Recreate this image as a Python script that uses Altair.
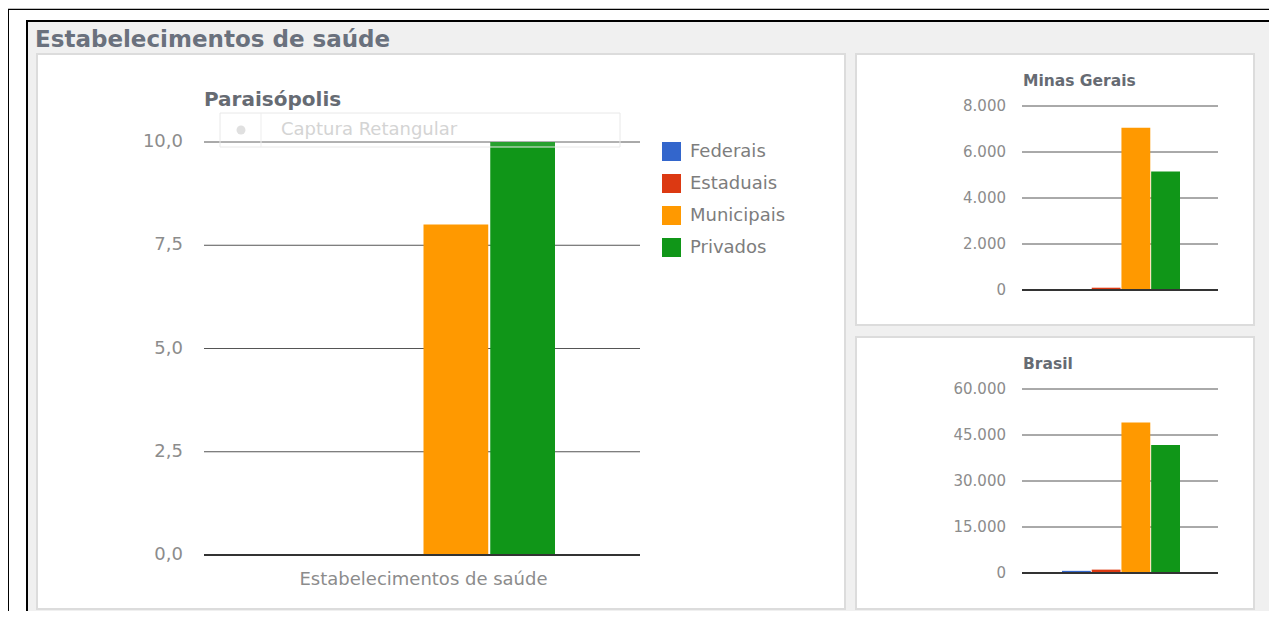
import altair as alt
import pandas as pd

# ---------------- data ----------------
categories = ["Federais", "Estaduais", "Municipais", "Privados"]
paraisopolis = [0, 0, 8, 10]
minas_gerais = [0, 100, 7050, 5150]
brasil = [700, 1100, 49100, 41700]

ticks_pv = [0, 2.5, 5, 7.5, 10]
labels_pv = ["0,0", "2,5", "5,0", "7,5", "10,0"]
ticks_mg = [0, 2000, 4000, 6000, 8000]
labels_mg = ["0", "2.000", "4.000", "6.000", "8.000"]
ticks_br = [0, 15000, 30000, 45000, 60000]
labels_br = ["0", "15.000", "30.000", "45.000", "60.000"]

page_title = "Estabelecimentos de saúde"
panel_titles = ["Paraisópolis", "Minas Gerais", "Brasil"]
x_title = "Estabelecimentos de saúde"
overlay_text = "Captura Retangular"

# ---------------- style ----------------
colors = ["#3366cc", "#dc3912", "#ff9900", "#109618"]
FONT = "DejaVu Sans"
W, H = 1261, 603
OX, OY = 8, 8
RIGHT = OX + W


def px(x):
    return x - OX


def py(y):
    return y - OY


one = pd.DataFrame({"a": [0]})


def rect(x1, y1, x2, y2, **kw):
    return alt.Chart(one).mark_rect(**kw).encode(
        x=alt.value(px(x1)), x2=alt.value(px(x2)),
        y=alt.value(py(y1)), y2=alt.value(py(y2)))


def hline(x1, x2, y, **kw):
    return alt.Chart(one).mark_rule(**kw).encode(
        x=alt.value(px(x1)), x2=alt.value(px(x2)), y=alt.value(py(y)))


def vline(x, y1, y2, **kw):
    return alt.Chart(one).mark_rule(**kw).encode(
        x=alt.value(px(x)), y=alt.value(py(y1)), y2=alt.value(py(y2)))


def text(s, x, y, **kw):
    return alt.Chart(one).mark_text(text=s, font=FONT, **kw).encode(
        x=alt.value(px(x)), y=alt.value(py(y)))


def yscale(domain, top, bottom):
    return alt.Scale(domain=domain, range=[py(bottom), py(top)], nice=False)


def bars(values, bx1, bx2, ys, legend):
    df = pd.DataFrame({"cat": categories, "val": values})
    return alt.Chart(df).mark_bar(opacity=1).encode(
        x=alt.X("cat:N", sort=categories,
                scale=alt.Scale(domain=categories, range=[px(bx1), px(bx2)],
                                paddingInner=0.03, paddingOuter=0),
                axis=None),
        y=alt.Y("val:Q", scale=ys, axis=None),
        color=alt.Color("cat:N", scale=alt.Scale(domain=categories, range=colors),
                        legend=legend),
    )


def grid(ticks, ys, x1, x2, color, width):
    df = pd.DataFrame({"t": ticks})
    return alt.Chart(df).mark_rule(color=color, strokeWidth=width).encode(
        y=alt.Y("t:Q", scale=ys, axis=None),
        x=alt.value(px(x1)), x2=alt.value(px(x2)))


def tick_labels(ticks, labels, ys, xr, size):
    df = pd.DataFrame({"t": ticks, "lab": labels})
    return alt.Chart(df).mark_text(align="right", baseline="middle", font=FONT,
                                   fontSize=size, color="#8c8c8c").encode(
        y=alt.Y("t:Q", scale=ys, axis=None),
        x=alt.value(px(xr)), text="lab:N")


layers = []
# page frame
layers.append(hline(8, RIGHT, 8.5, color="#c0c0c0", strokeWidth=1))
layers.append(hline(8, RIGHT, 9.5, color="#000000", strokeWidth=1))
layers.append(vline(8.5, 9, 611, color="#000000", strokeWidth=1))
layers.append(rect(28, 22, RIGHT, 611, color="#f0f0f0"))
layers.append(hline(26, RIGHT, 21, color="#000000", strokeWidth=2))
layers.append(vline(27, 20, 611, color="#000000", strokeWidth=2))
layers.append(text(page_title, 35, 47, fontSize=23, fontWeight="bold",
                   color="#6a717d", align="left", baseline="alphabetic"))

# cards
for (x1, y1, x2, y2) in [(37, 54, 845, 609), (856, 54, 1254, 325), (856, 337, 1254, 609)]:
    layers.append(rect(x1, y1, x2, y2, fill="#ffffff", stroke="#dcdcdc", strokeWidth=2))

# ---- Paraisópolis panel ----
ys_pv = yscale([0, 10], 142, 555)
layers.append(text(panel_titles[0], 204, 106, fontSize=20, fontWeight="bold",
                   color="#666b73", align="left", baseline="alphabetic"))
layers.append(grid(ticks_pv[1:], ys_pv, 204, 640, "#555555", 1))
layers.append(bars(paraisopolis, 290, 555, ys_pv,
                   alt.Legend(title=None, orient="none", legendX=px(662), legendY=py(142),
                              symbolType="square", symbolSize=361, symbolStrokeWidth=0,
                              labelFont=FONT, labelFontSize=18, labelColor="#7d7d7d",
                              labelOffset=9, rowPadding=13, padding=0)))
layers.append(grid(ticks_pv[:1], ys_pv, 204, 640, "#333333", 2))
layers.append(tick_labels(ticks_pv, labels_pv, ys_pv, 183, 18))
layers.append(text(x_title, 423.5, 585, fontSize=18, color="#8c8c8c",
                   align="center", baseline="alphabetic"))

# ---- Minas Gerais panel ----
ys_mg = yscale([0, 8000], 106, 290)
layers.append(text(panel_titles[1], 1023, 86, fontSize=15.5, fontWeight="bold",
                   color="#666b73", align="left", baseline="alphabetic"))
layers.append(grid(ticks_mg[1:], ys_mg, 1022, 1218, "#555555", 1))
layers.append(bars(minas_gerais, 1062, 1180, ys_mg, None))
layers.append(grid(ticks_mg[:1], ys_mg, 1022, 1218, "#333333", 2))
layers.append(tick_labels(ticks_mg, labels_mg, ys_mg, 1006, 15))

# ---- Brasil panel ----
ys_br = yscale([0, 60000], 389, 573)
layers.append(text(panel_titles[2], 1023, 369, fontSize=15.5, fontWeight="bold",
                   color="#666b73", align="left", baseline="alphabetic"))
layers.append(grid(ticks_br[1:], ys_br, 1022, 1218, "#555555", 1))
layers.append(bars(brasil, 1062, 1180, ys_br, None))
layers.append(grid(ticks_br[:1], ys_br, 1022, 1218, "#333333", 2))
layers.append(tick_labels(ticks_br, labels_br, ys_br, 1006, 15))

# ---- faint screen-capture overlay ----
layers.append(rect(220, 113, 620, 147, fill="#ffffff", fillOpacity=0.1,
                   stroke="#e8e8e8", strokeWidth=1))
layers.append(vline(261, 113, 147, color="#ededed", strokeWidth=1))
layers.append(alt.Chart(one).mark_point(shape="circle", size=80, filled=True,
                                        color="#e0e0e0", opacity=1).encode(
    x=alt.value(px(241)), y=alt.value(py(130))))
layers.append(text(overlay_text, 281, 130, fontSize=18, color="#d4d4d4",
                   align="left", baseline="middle"))

chart = alt.layer(*layers).resolve_scale(
    x="independent", y="independent", color="independent"
).properties(
    width=W, height=H, padding=0,
    autosize=alt.AutoSizeParams(type="none"),
).configure_view(stroke=None)

chart.save("out.html", embed_options={"renderer": "svg", "actions": False})
